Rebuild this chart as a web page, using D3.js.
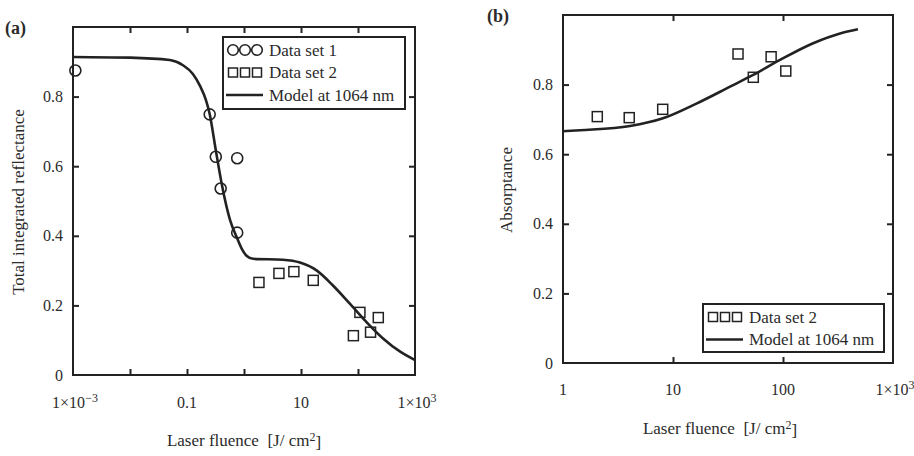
<!DOCTYPE html>
<html>
<head>
<meta charset="utf-8">
<script src="https://cdn.jsdelivr.net/npm/d3@7"></script>
<style>
body { margin: 0; background: #fff; }
figure { margin: 0; }
text { font-family: "Liberation Serif", "Times New Roman", serif; fill: #2b2b2b; }
</style>
</head>
<body>
<figure></figure>
<script>
// ---- panel (a): reflectance vs fluence
const set1Fluence = [0.0011, 0.25, 0.32, 0.39, 0.76, 0.76]
const set1Refl    = [0.875, 0.749, 0.627, 0.536, 0.623, 0.409]
const set2aFluence = [1.83, 4.1, 7.5, 16.4, 83, 108, 166, 227]
const set2aRefl    = [0.266, 0.292, 0.297, 0.272, 0.113, 0.18, 0.123, 0.165]
const modelAFluence = [0.001, 0.01, 0.05, 0.085, 0.127, 0.17, 0.215, 0.25, 0.32, 0.41, 0.57, 0.75, 0.92, 1.12, 1.44, 4.8, 9.6, 19, 36, 72, 145, 275, 550, 1000]
const modelARefl    = [0.914, 0.912, 0.905, 0.89, 0.865, 0.83, 0.79, 0.75, 0.646, 0.546, 0.445, 0.395, 0.362, 0.342, 0.334, 0.331, 0.323, 0.30, 0.258, 0.205, 0.15, 0.105, 0.067, 0.043]
const tickLabelsA = [[1e-3, "1×10", "−3"], [0.1, "0.1", ""], [10, "10", ""], [1e3, "1×10", "3"]]
const minorTicksA = [1e-2, 0.1, 1, 10, 100]

// ---- panel (b): absorptance vs fluence
const set2bFluence = [2.05, 4.0, 8.06, 39, 53.7, 78, 106]
const set2bAbs     = [0.708, 0.705, 0.729, 0.888, 0.821, 0.88, 0.839]
const modelBFluence = [1, 1.43, 4.07, 8.1, 16.5, 33, 53, 94, 188, 330, 480]
const modelBAbs     = [0.666, 0.669, 0.681, 0.703, 0.746, 0.794, 0.827, 0.871, 0.919, 0.947, 0.959]
const tickLabelsB = [[1, "1", ""], [10, "10", ""], [100, "100", ""], [1e3, "1×10", "3"]]
const minorTicksB = [10, 100]

const yTickLabels = [0, 0.2, 0.4, 0.6, 0.8]
const yMinorTicks = [0.2, 0.4, 0.6, 0.8]

const svg = d3.select("figure").append("svg")
    .attr("width", 914).attr("height", 456)
    .attr("viewBox", "0 0 914 456")

const ink = "#222"

function panel(o) {
    const x = d3.scaleLog().domain(o.xDomain).range([o.left, o.right]),
        y = d3.scaleLinear().domain([0, 1]).range([o.bottom, o.top]),
        g = svg.append("g")

    // inward ticks on all four sides
    const tick = 6
    g.append("g").attr("transform", `translate(0,${o.bottom})`)
        .call(d3.axisBottom(x).tickValues(o.minor).tickSizeInner(-tick).tickSizeOuter(0).tickFormat(""))
    g.append("g").attr("transform", `translate(0,${o.top})`)
        .call(d3.axisTop(x).tickValues(o.minor).tickSizeInner(-tick).tickSizeOuter(0).tickFormat(""))
    g.append("g").attr("transform", `translate(${o.left},0)`)
        .call(d3.axisLeft(y).tickValues(yMinorTicks).tickSizeInner(-tick).tickSizeOuter(0).tickFormat(""))
    g.append("g").attr("transform", `translate(${o.right},0)`)
        .call(d3.axisRight(y).tickValues(yMinorTicks).tickSizeInner(-tick).tickSizeOuter(0).tickFormat(""))
    g.selectAll(".domain").remove()
    g.selectAll(".tick line").attr("stroke", ink).attr("stroke-width", 2)

    g.append("rect")
        .attr("x", o.left).attr("y", o.top)
        .attr("width", o.right - o.left).attr("height", o.bottom - o.top)
        .attr("fill", "none").attr("stroke", ink).attr("stroke-width", 2)

    // tick labels
    const xl = g.selectAll("text.xl").data(o.xLabels).enter()
        .append("text").classed("xl", true)
        .attr("x", d => x(d[0]) + (d[2] ? 2 : 0))
        .attr("y", o.bottom + o.xLabelGap)
        .attr("text-anchor", "middle")
        .style("font-size", "16px")
        .text(d => d[1])
    xl.filter(d => d[2]).append("tspan")
        .attr("dy", "-0.5em").style("font-size", "12px")
        .text(d => d[2])

    g.selectAll("text.yl").data(yTickLabels).enter()
        .append("text").classed("yl", true)
        .attr("x", o.left - 10)
        .attr("y", d => y(d))
        .attr("dy", "0.35em")
        .attr("text-anchor", "end")
        .style("font-size", "16px")
        .text(d => d == 0 ? "0" : d.toFixed(1))

    // axis titles
    const xt = g.append("text")
        .attr("x", o.xTitleX).attr("y", o.xTitleY)
        .attr("text-anchor", "middle")
        .style("font-size", "17px")
        .text("Laser fluence\u00a0\u00a0[J/ cm")
    xt.append("tspan").attr("dy", "-0.45em").style("font-size", "12px").text("2")
    xt.append("tspan").attr("dy", "0.45em").text("]")

    g.append("text")
        .attr("transform", `translate(${o.yTitleX},${o.yTitleY}) rotate(-90)`)
        .attr("text-anchor", "middle")
        .style("font-size", "17px")
        .text(o.yTitle)

    g.append("text")
        .attr("x", o.tagX).attr("y", o.tagY)
        .style("font-size", "18px").style("font-weight", 700)
        .text(o.tag)

    // model curve
    const line = d3.line().x(d => x(d[0])).y(d => y(d[1])).curve(d3.curveMonotoneX)
    g.append("path")
        .datum(d3.zip(o.modelX, o.modelY))
        .attr("d", line)
        .attr("fill", "none").attr("stroke", ink).attr("stroke-width", 2.6)

    // data
    if (o.circX) {
        g.selectAll("circle.pt").data(d3.zip(o.circX, o.circY)).enter()
            .append("circle").classed("pt", true)
            .attr("cx", d => x(d[0])).attr("cy", d => y(d[1])).attr("r", 5.5)
            .attr("fill", "none").attr("stroke", ink).attr("stroke-width", 1.6)
    }
    g.selectAll("rect.pt").data(d3.zip(o.sqX, o.sqY)).enter()
        .append("rect").classed("pt", true)
        .attr("x", d => x(d[0]) - 5).attr("y", d => y(d[1]) - 5)
        .attr("width", 10).attr("height", 10)
        .attr("fill", "none").attr("stroke", ink).attr("stroke-width", 1.5)

    // legend
    const lg = g.append("g").attr("transform", `translate(${o.legX},${o.legY})`)
    lg.append("rect")
        .attr("width", o.legW).attr("height", o.legH)
        .attr("fill", "#fff").attr("stroke", ink).attr("stroke-width", 2)
    let row = 0
    const rowY = i => 13 + i * 22.5
    if (o.circX) {
        lg.selectAll("circle").data([10, 22, 34]).enter().append("circle")
            .attr("cx", d => d).attr("cy", rowY(row)).attr("r", 5.3)
            .attr("fill", "none").attr("stroke", ink).attr("stroke-width", 1.6)
        lg.append("text").attr("x", 46).attr("y", rowY(row)).attr("dy", "0.35em")
            .style("font-size", "17px").text("Data set 1")
        row++
    }
    lg.selectAll("rect.sym").data([10, 22, 34]).enter().append("rect").classed("sym", true)
        .attr("x", d => d - 4.5).attr("y", rowY(row) - 4.5).attr("width", 9).attr("height", 9)
        .attr("fill", "none").attr("stroke", ink).attr("stroke-width", 1.5)
    lg.append("text").attr("x", 46).attr("y", rowY(row)).attr("dy", "0.35em")
        .style("font-size", "17px").text("Data set 2")
    row++
    lg.append("line").attr("x1", 3).attr("x2", 40).attr("y1", rowY(row)).attr("y2", rowY(row))
        .attr("stroke", ink).attr("stroke-width", 2.6)
    lg.append("text").attr("x", 46).attr("y", rowY(row)).attr("dy", "0.35em")
        .style("font-size", "17px").text("Model at 1064 nm")
}

panel({
    tag: "(a)", tagX: 5, tagY: 34,
    left: 73, right: 415, top: 27, bottom: 375,
    xDomain: [1e-3, 1e3], minor: minorTicksA, xLabels: tickLabelsA, xLabelGap: 33,
    xTitleX: 244, xTitleY: 446, yTitle: "Total integrated reflectance", yTitleX: 24, yTitleY: 202,
    modelX: modelAFluence, modelY: modelARefl,
    circX: set1Fluence, circY: set1Refl, sqX: set2aFluence, sqY: set2aRefl,
    legX: 223, legY: 37, legW: 182, legH: 72
})

panel({
    tag: "(b)", tagX: 487, tagY: 22,
    left: 563, right: 893, top: 15, bottom: 363,
    xDomain: [1, 1e3], minor: minorTicksB, xLabels: tickLabelsB, xLabelGap: 32,
    xTitleX: 720, xTitleY: 434, yTitle: "Absorptance", yTitleX: 512, yTitleY: 190,
    modelX: modelBFluence, modelY: modelBAbs,
    sqX: set2bFluence, sqY: set2bAbs,
    legX: 703, legY: 304, legW: 181, legH: 48
})
</script>
</body>
</html>
